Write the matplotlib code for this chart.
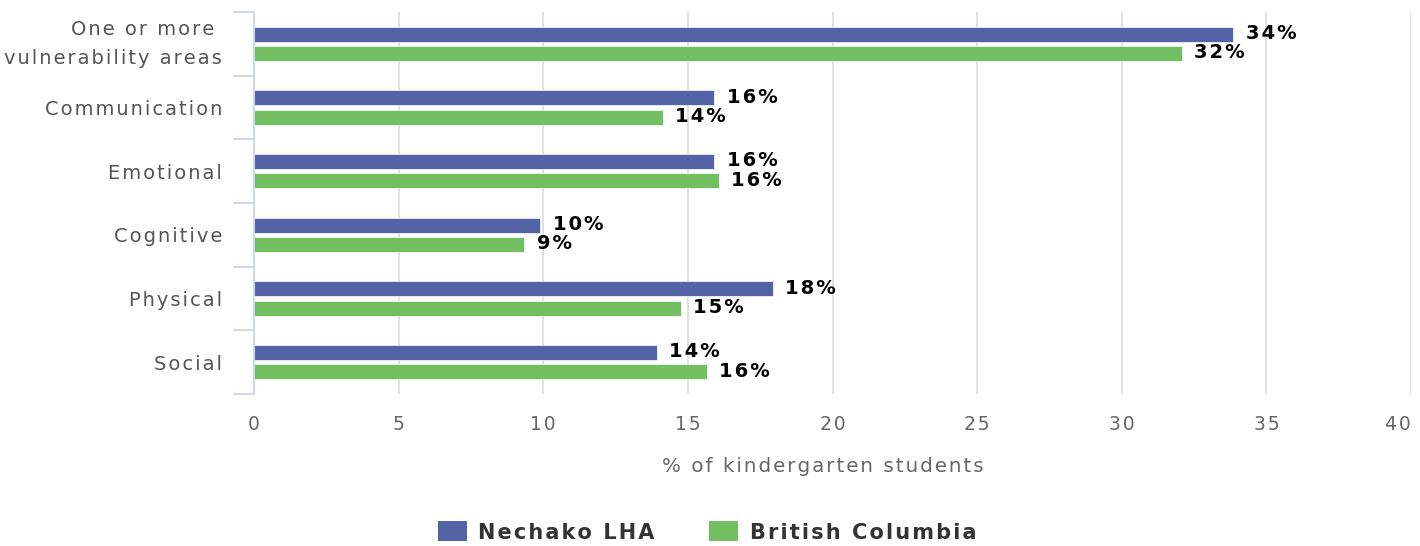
import matplotlib
matplotlib.use("Agg")
import matplotlib.pyplot as plt
from matplotlib.patches import Patch
import numpy as np

# ---- data ----
category_labels = ["One or more \nvulnerability areas", "Communication", "Emotional", "Cognitive", "Physical", "Social"]
nechako = [33.85, 15.92, 15.92, 9.90, 17.94, 13.93]
bc = [32.07, 14.13, 16.06, 9.34, 14.75, 15.66]
series_names = ["Nechako LHA", "British Columbia"]
x_ticks = [0, 5, 10, 15, 20, 25, 30, 35, 40]
x_title = "% of kindergarten students"

# ---- style ----
C_NECH = "#5463a6"
C_BC = "#71bf60"
HS = "\u200a"


def sp(s):
    return "\n".join(HS.join(line) for line in s.split("\n"))


plt.rcParams["font.family"] = ["DejaVu Sans"]

fig = plt.figure(figsize=(14.2, 5.46), dpi=100)
ax = fig.add_axes([254 / 1420, 1 - 394 / 546, (1411 - 254) / 1420, (394 - 12) / 546])

idx = np.arange(len(category_labels))
off = 0.152
h = 0.232
ax.barh(idx - off, nechako, height=h, color=C_NECH, edgecolor="white", linewidth=0.5, zorder=3)
ax.barh(idx + off, bc, height=h, color=C_BC, edgecolor="white", linewidth=0.5, zorder=3)

for vals, dy in ((nechako, -off), (bc, off)):
    for i, v in enumerate(vals):
        ax.annotate(sp(f"{round(v):.0f}%"), xy=(v, i + dy), xytext=(9, 0.5),
                    textcoords="offset points", ha="left", va="center",
                    fontsize=14, fontweight="bold", color="#000000", zorder=4)

ax.set_xlim(0, 40)
ax.set_ylim(len(category_labels) - 0.5, -0.5)

ax.set_xticks(x_ticks)
ax.set_xticklabels([sp(str(t)) for t in x_ticks])
ax.tick_params(axis="x", length=0, pad=15, labelsize=13.5, labelcolor="#666666")
ax.get_xticklabels()[-1].set_ha("right")

ax.set_yticks(idx)
ax.set_yticklabels([sp(c) for c in category_labels], fontsize=14.0, color="#555555",
                   linespacing=1.7)
ax.tick_params(axis="y", which="major", length=0, pad=23)
ax.get_yticklabels()[0].set_verticalalignment("center")
ax.get_yticklabels()[0].set_y(-0.05)
ax.set_yticks(np.arange(-0.5, len(category_labels), 1.0), minor=True)
ax.tick_params(axis="y", which="minor", length=15, width=1.3, color="#ccd6eb")

ax.xaxis.grid(True, color="#dcdcdc", linewidth=1.2, zorder=0)
ax.set_axisbelow(True)
for s in ("top", "right", "bottom"):
    ax.spines[s].set_visible(False)
ax.spines["left"].set_color("#ccd6eb")
ax.spines["left"].set_linewidth(1.3)
ax.spines["left"].set_zorder(5)

fig.text(823 / 1420, 1 - 466 / 546, sp(x_title), ha="center", va="center",
         fontsize=14.3, color="#666666")

handles = [Patch(facecolor=C_NECH), Patch(facecolor=C_BC)]
fig.legend(handles, [sp(n) for n in series_names], loc="center",
           bbox_to_anchor=(707 / 1420, 1 - 532 / 546), ncol=2, frameon=False,
           prop={"size": 15.0, "weight": "bold"}, labelcolor="#333333",
           handlelength=1.4, handleheight=1.1, handletextpad=0.55, columnspacing=2.6,
           borderaxespad=0, borderpad=0)

fig.savefig("out.png", dpi=100)
